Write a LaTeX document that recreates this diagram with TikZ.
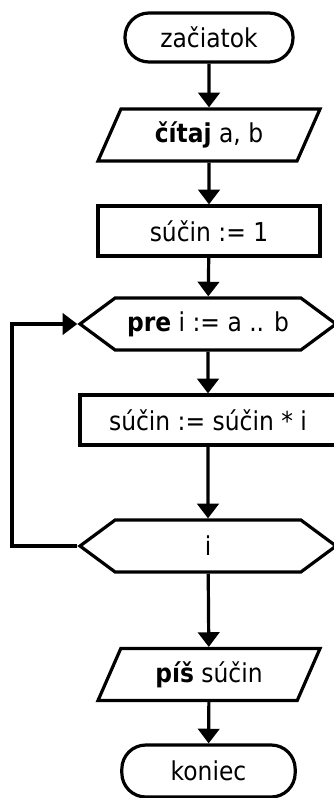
\documentclass[tikz,border=0pt]{standalone}
\usepackage{fontspec}
\setmainfont{DejaVu Sans}[FakeStretch=0.9]
\usetikzlibrary{shapes.geometric,shapes.symbols,arrows.meta}

\tikzset{every path/.style={line width=2.4pt},
  box/.style={draw,rectangle,inner sep=0pt,font=\fontsize{19.5}{23}\selectfont},
  term/.style={box,rounded corners=18pt},
  io/.style={box,trapezium,trapezium left angle=49,trapezium right angle=131,
    trapezium stretches body},
  cycle/.style={box,signal,signal to=west and east,signal pointer angle=73},
  flow/.style={-{Triangle[width=16pt,length=11pt]}}}

\begin{document}
\begin{tikzpicture}[x=0.75pt,y=-0.75pt]
    \useasboundingbox (0,0) rectangle (334,798);
    \node[term,minimum width=126pt,minimum height=36.75pt] (start) at (209,37.5) {začiatok};
    \node[io,minimum width=166.5pt,minimum height=39pt] (read) at (209,135) {\textbf{čítaj} a, b};
    \node[box,minimum width=166.5pt,minimum height=37.5pt] (init) at (209,231) {súčin := 1};
    \node[cycle,minimum width=192pt,minimum height=39pt] (loop) at (208,324) {\textbf{pre} i := a .. b};
    \node[box,minimum width=192pt,minimum height=37.5pt] (body) at (208,420) {súčin := súčin * i};
    \node[cycle,minimum width=192pt,minimum height=39pt] (until) at (208,546) {i};
    \node[io,minimum width=166.5pt,minimum height=39pt] (write) at (209,674.5) {\textbf{píš} súčin};
    \node[term,minimum width=130pt,minimum height=39pt] (stop) at (208.5,771) {koniec};
    \coordinate (back) at (12,546);
    \draw[flow] (start) -- (read);
    \draw[flow] (read) -- (init);
    \draw[flow] (init) -- (loop);
    \draw[flow] (loop) -- (body);
    \draw[flow] (body) -- (until);
    \draw[flow] (until) -- (write);
    \draw[flow] (write) -- (stop);
    \draw[flow] (until.west) -- (back) |- (loop.west);
\end{tikzpicture}
\end{document}
